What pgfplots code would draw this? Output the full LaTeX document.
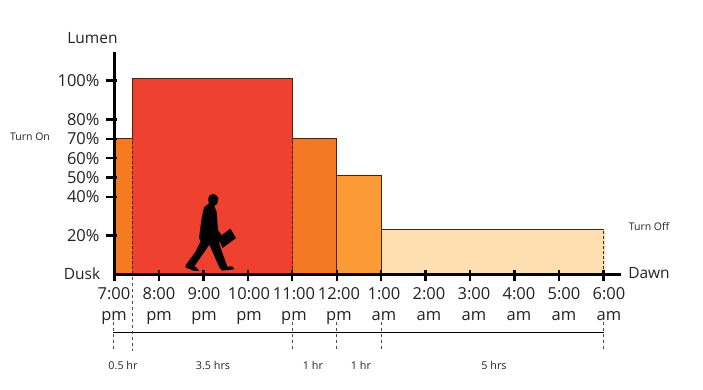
\documentclass[border=0pt]{standalone}
\usepackage{pgfplots}
\pgfplotsset{compat=1.18}
\usepackage{fontspec}
\setmainfont{Open Sans}
\definecolor{barA}{HTML}{F47B20}
\definecolor{barB}{HTML}{EF4130}
\definecolor{barC}{HTML}{F47721}
\definecolor{barD}{HTML}{FC9A35}
\definecolor{barE}{HTML}{FEE0B0}
\definecolor{edge}{HTML}{4A2410}
\definecolor{txt}{HTML}{222222}
\begin{document}
\begin{tikzpicture}[x=1pt,y=1pt]
\useasboundingbox (0,0) rectangle (703,390);
\begin{axis}[
  at={(114.5pt,115.5pt)}, anchor=south west,
  scale only axis, width=506.2pt, height=222.5pt,
  xmin=0, xmax=11.39, ymin=0, ymax=114.7,
  axis lines=left,
  axis line style={-, line width=2.4pt, black},
  clip=false,
  xtick={0,1,2,3,4,5,6,7,8,9,10,11},
  xticklabels={7:00\\pm,8:00\\pm,9:00\\pm,10:00\\pm,11:00\\pm,12:00\\pm,1:00\\am,2:00\\am,3:00\\am,4:00\\am,5:00\\am,6:00\\am},
  ytick={20,40,50,60,70,80,100},
  yticklabels={20\%,40\%,50\%,60\%,70\%,80\%,100\%},
  tick align=center,
  major tick length=11pt,
  x tick style={line width=2.4pt, black, yshift=-1.5pt},
  y tick style={line width=2.4pt, black, xshift=-3pt},
  xticklabel style={font=\fontsize{16.5}{21}\selectfont, text=txt, align=center, xshift={\ticknum*0.55pt-0.5pt}, yshift=-7.5pt, inner sep=0pt, outer sep=0pt},
  yticklabel style={font=\fontsize{16.5}{20}\selectfont, text=txt, xshift=-6pt},
  axis on top,
]
\addplot[fill=barA, draw=edge, line width=0.8pt] coordinates {(0,0)(0,70)(0.405,70)(0.405,0)} \closedcycle;
\addplot[fill=barC, draw=edge, line width=0.8pt] coordinates {(4,0)(4,70)(5,70)(5,0)} \closedcycle;
\addplot[fill=barD, draw=edge, line width=0.8pt] coordinates {(5,0)(5,51.3)(6,51.3)(6,0)} \closedcycle;
\addplot[fill=barE, draw=edge, line width=0.8pt] coordinates {(6,0)(6,23)(11,23)(11,0)} \closedcycle;
\addplot[fill=barE, draw=barE, line width=1pt] coordinates {(10.99,0.6)(10.99,22.5)(11.02,22.5)(11.02,0.6)} \closedcycle;
\addplot[fill=barB, draw=edge, line width=0.8pt] coordinates {(0.405,0)(0.405,101)(4,101)(4,0)} \closedcycle;
\addplot[fill=barB, draw=none] coordinates {(0.395,0.6)(0.395,69.5)(0.42,69.5)(0.42,0.6)} \closedcycle;
\addplot[fill=barB, draw=none] coordinates {(3.98,0.6)(3.98,69.5)(4.01,69.5)(4.01,0.6)} \closedcycle;
\addplot[densely dashed, line width=0.5pt, color=edge] coordinates {(0.405,0)(0.405,70)};
\addplot[densely dashed, line width=0.5pt, color=edge] coordinates {(4,0)(4,70)};
\addplot[densely dashed, line width=0.5pt, color=edge] coordinates {(11,0)(11,23)};
\addplot[densely dashed, line width=0.5pt, color=edge] coordinates {(6,0)(6,23)};
\end{axis}
% walking figure (decoration)
\begin{scope}[shift={(180,202)}, x=0.3333pt, y=-0.3333pt]
\fill[black] (98,18) -- (88,23) -- (84,34) -- (87,46) -- (72,58) -- (65,90) -- (57,150) -- (62,160) -- (46,192) -- (18,230) -- (16,238) -- (40,248) -- (58,249) -- (48,237) -- (43,235) -- (88,170) -- (118,238) -- (126,248) -- (163,244) -- (157,235) -- (142,236) -- (118,168) -- (120,150) -- (124,140) -- (114,126) -- (110,72) -- (103,54) -- (112,47) -- (115,30) -- (107,20) -- cycle;
\fill[black] (114,150) -- (128,180) -- (168,150) -- (151,122) -- cycle;
\end{scope}
% annotations in picture coordinates (y measured from top)
\begin{scope}[shift={(0,390)}, x=1pt, y=-1pt]
\node[font=\fontsize{15.5}{18}\selectfont, text=txt] at (92.5,38.5) {Lumen};
\node[font=\fontsize{15.5}{18}\selectfont, text=txt] at (82,273.5) {Dusk};
\node[font=\fontsize{15.5}{18}\selectfont, text=txt] at (649,273) {Dawn};
\node[font=\fontsize{10.5}{12}\selectfont, text=txt] at (30,137) {Turn On};
\node[font=\fontsize{10.5}{12}\selectfont, text=txt] at (649,226.5) {Turn Off};
\foreach \x/\t in {123/0.5 hr,213/3.5 hrs,313/1 hr,361/1 hr,494/5 hrs}
  \node[font=\fontsize{10.8}{13}\selectfont, text=txt] at (\x,365.5) {\t};
\draw[line width=0.7pt, black] (113.3,332.3) -- (603.5,332.3);
\foreach \x in {113.3,292.5,336.5,381.5,603.5}
  \draw[dash pattern=on 3pt off 3pt, line width=0.4pt, black!70] (\x,322) -- (\x,351);
\draw[dash pattern=on 3pt off 3pt, line width=0.4pt, black!70] (132.5,277) -- (132.5,351);
\end{scope}
\end{tikzpicture}
\end{document}
